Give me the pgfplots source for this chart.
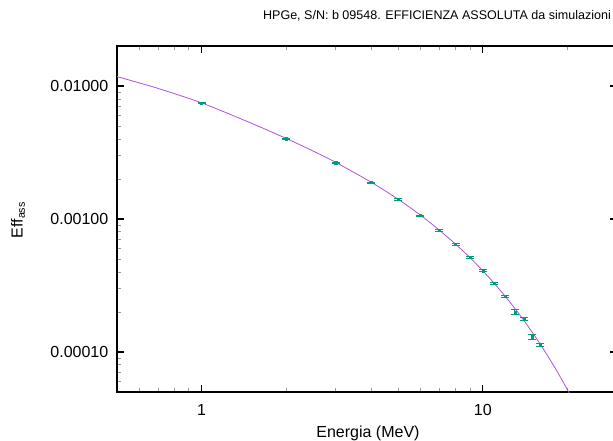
\documentclass[border=0pt]{standalone}
\usepackage{pgfplots}
\pgfplotsset{compat=1.18}
\usepackage{fontspec}
\setmainfont{Liberation Sans}
\definecolor{fitc}{HTML}{A855E0}
\definecolor{ptc}{HTML}{009E73}
\pgfplotstableread{
E eff err
1 0.00746 0.00008
2 0.00401 0.00004
3 0.00265 0.00003
4 0.001877 0.00002
5 0.00140 0.000015
6 0.00106 0.000012
7 0.00082 0.00001
8 0.000644 0.000008
9 0.000512 0.000007
10 0.000408 0.000006
11 0.000329 0.000005
12 0.000263 0.000004
13 0.000200 0.000007
14 0.000177 0.000004
15 0.000130 0.000005
16 0.000113 0.000003
}\simdata
\pgfplotstableread{
E eff
0.5 0.011776
0.7 0.009594
1 0.00746
1.5 0.005260
2 0.004031
2.5 0.003232
3 0.002665
4 0.001895
5 0.001407
6 0.001069
7 0.000825
8 0.0006463
9 0.0005126
10 0.0004077
11 0.0003265
12 0.0002628
13 0.0002124
14 0.0001723
15 0.0001402
16 0.0001145
17 0.00009366
18 0.0000768
19 0.0000631
20 0.00005193
21 0.00004279
}\fitdata
\begin{document}
\begin{tikzpicture}
\begin{axis}[
 scale only axis, width=375pt, height=259.5pt,
 xmode=log, ymode=log,
 xmin=0.5, xmax=30, ymin=5e-5, ymax=0.02,
 xtick={1,10}, xticklabels={1,10},
 ytick={0.0001,0.001,0.01}, yticklabels={0.00010,0.00100,0.01000},
 minor xtick={0.6,0.7,0.8,0.9,2,3,4,5,6,7,8,9,20},
 minor ytick={6e-5,7e-5,8e-5,9e-5,2e-4,3e-4,4e-4,5e-4,6e-4,7e-4,8e-4,9e-4,2e-3,3e-3,4e-3,5e-3,6e-3,7e-3,8e-3,9e-3},
 tick label style={font=\fontsize{12}{14}\selectfont},
 xticklabel style={yshift=-6pt},
 yticklabel style={xshift=-3pt},
 axis line style={line width=0.8pt},
 major tick length=5pt, minor tick length=3pt,
 major tick style={black, line width=0.8pt},
 minor tick style={gray!80, line width=0.6pt},
 tick align=inside,
]
\addplot[fitc, line width=0.6pt, smooth] table[x=E,y=eff]{\fitdata};
\addplot[ptc, only marks, mark=square*, mark size=0.8pt,
  error bars/.cd, y dir=both, y explicit,
  error bar style={line width=0.6pt},
  error mark options={ptc, rotate=90, mark size=3pt, line width=0.7pt}]
  table[x=E,y=eff,y error=err]{\simdata};
\end{axis}
\node[font=\fontsize{9.4}{11}\selectfont] at (240pt,282pt) {HPGe, S/N: b 09548. EFFICIENZA ASSOLUTA da simulazioni};
\node[font=\fontsize{12}{14}\selectfont] at (188.25pt,-30.75pt) {Energia (MeV)};
\node[font=\fontsize{12}{14}\selectfont, rotate=90] at (-74.25pt,129pt) {Eff\textsubscript{ass}};
\pgfresetboundingbox
\path[use as bounding box] (-87.75pt,-36.75pt) rectangle (372pt,294pt);
\end{tikzpicture}
\end{document}
